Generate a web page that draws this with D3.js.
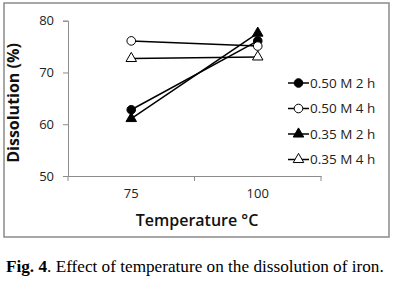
<!DOCTYPE html>
<html><head><meta charset="utf-8">
<script src="https://cdn.jsdelivr.net/npm/d3@7"></script>
<style>body{margin:0;background:#fff}svg{display:block}</style>
</head><body>
<svg id="c" width="394" height="287"></svg>
<script>
const categories = ["75", "100"];
const seriesNames = ["0.50 M 2 h", "0.50 M 4 h", "0.35 M 2 h", "0.35 M 4 h"];
const s050_2h = [62.8, 76.1];
const s050_4h = [76.1, 75.1];
const s035_2h = [61.1, 77.6];
const s035_4h = [72.7, 73.0];
const yTicks = [50, 60, 70, 80];
const seriesValues = [s050_2h, s050_4h, s035_2h, s035_4h];
const markerTypes = ["circleFilled", "circleOpen", "triFilled", "triOpen"];

const svg = d3.select("#c");
svg.append("rect").attr("x", 4).attr("y", 3).attr("width", 385).attr("height", 234)
  .attr("fill", "none").attr("stroke", "#8a8a8a").attr("stroke-width", 1.5);

const x = d3.scaleBand().domain(categories).range([68, 321]);
const y = d3.scaleLinear().domain([50, 80]).range([176, 20.7]);
const axisColor = "#8c8c8c";
const sans = "'Open Sans', sans-serif";

// y axis
const ya = svg.append("g").attr("transform", "translate(68,0)")
  .call(d3.axisLeft(y).tickValues(yTicks).tickSize(5).tickPadding(9));
ya.select(".domain").attr("stroke", axisColor);
ya.selectAll(".tick line").attr("stroke", axisColor);
ya.selectAll("text").attr("font-family", sans).attr("font-size", 13).attr("fill", "#222");

// x axis
const xa = svg.append("g").attr("transform", "translate(0,176)")
  .call(d3.axisBottom(x).tickSize(0).tickPadding(13).tickSizeOuter(0));
xa.select(".domain").attr("stroke", axisColor);
xa.selectAll(".tick line").remove();
xa.selectAll("text").attr("font-family", sans).attr("font-size", 13).attr("fill", "#222");
// boundary ticks between categories
const bounds = [x.range()[0]].concat(categories.map(c => x(c) + x.bandwidth()));
svg.append("g").selectAll("line").data(bounds).join("line")
  .attr("x1", d => d).attr("x2", d => d).attr("y1", 176).attr("y2", 181)
  .attr("stroke", axisColor);

// titles
svg.append("text").attr("transform", "translate(19,103) rotate(-90)")
  .attr("text-anchor", "middle").attr("font-family", sans).attr("font-weight", 700)
  .attr("font-size", 16).attr("fill", "#111").text("Dissolution (%)");
svg.append("text").attr("x", 197).attr("y", 226)
  .attr("text-anchor", "middle").attr("font-family", sans).attr("font-weight", 600)
  .attr("font-size", 16).attr("fill", "#111").text("Temperature °C");

function drawMarker(g, type, cx, cy) {
  if (type.startsWith("circle")) {
    g.append("circle").attr("cx", cx).attr("cy", cy).attr("r", 4.3)
      .attr("fill", type === "circleFilled" ? "#000" : "#fff")
      .attr("stroke", "#000").attr("stroke-width", 1);
  } else {
    const s = d3.symbol().type(d3.symbolTriangle).size(48);
    g.append("path").attr("d", s()).attr("transform", `translate(${cx},${cy})`)
      .attr("fill", type === "triFilled" ? "#000" : "#fff")
      .attr("stroke", "#000").attr("stroke-width", 1);
  }
}

const line = d3.line().x((d, i) => x(categories[i]) + x.bandwidth() / 2).y(d => y(d));
const plot = svg.append("g");
seriesValues.forEach((vals, k) => {
  plot.append("path").attr("d", line(vals)).attr("fill", "none")
    .attr("stroke", "#000").attr("stroke-width", 1.5);
});
seriesValues.forEach((vals, k) => {
  vals.forEach((v, i) => drawMarker(plot, markerTypes[k], x(categories[i]) + x.bandwidth() / 2, y(v)));
});

// legend
const legY = [83, 108.5, 134, 159.5];
const leg = svg.append("g");
seriesNames.forEach((name, k) => {
  const ly = legY[k];
  leg.append("line").attr("x1", 288).attr("x2", 309).attr("y1", ly).attr("y2", ly)
    .attr("stroke", "#000").attr("stroke-width", 1.5);
  drawMarker(leg, markerTypes[k], 298.5, ly);
  leg.append("text").attr("x", 310).attr("y", ly).attr("dy", "0.35em")
    .attr("font-family", sans).attr("font-size", 13.5).attr("fill", "#222").text(name);
});

// caption
const cap = svg.append("text").attr("x", 6).attr("y", 272)
  .attr("font-family", "'Liberation Serif', 'Times New Roman', serif").attr("font-size", 17.2).attr("fill", "#000");
cap.append("tspan").attr("font-weight", 700).text("Fig. 4");
cap.append("tspan").text(". Effect of temperature on the dissolution of iron.");
</script>
</body></html>
